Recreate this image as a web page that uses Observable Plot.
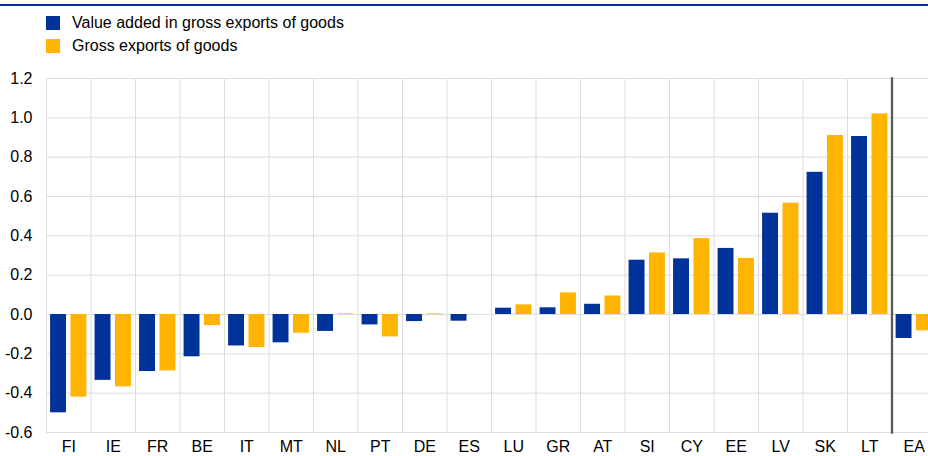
<!DOCTYPE html>
<html><head><meta charset="utf-8">
<script src="https://cdn.jsdelivr.net/npm/d3@7"></script>
<script src="https://cdn.jsdelivr.net/npm/@observablehq/plot@0.6"></script>
<style>
body{margin:0;background:#fff;font-family:"Liberation Sans",Arial,sans-serif;}
#wrap{width:928px;height:456px;overflow:hidden;position:relative;background:#fff}
.topline{position:absolute;left:0;top:4px;width:928px;height:1.5px;background:#003299}
.leg{position:absolute;left:46px;font-size:16px;color:#000;display:flex;align-items:center;height:14px;white-space:nowrap}
.sw{width:14px;height:14px;margin-right:12px;flex:none}
#chart{position:absolute;left:0;top:60px}
</style></head>
<body><div id="wrap"><div class="topline"></div><div id="legend"></div><div id="chart"></div></div>
<script>
const countries = ["FI","IE","FR","BE","IT","MT","NL","PT","DE","ES","LU","GR","AT","SI","CY","EE","LV","SK","LT","EA"];
const valueAdded   = [-0.50,-0.335,-0.29,-0.215,-0.16,-0.144,-0.086,-0.053,-0.036,-0.034,0.032,0.034,0.052,0.276,0.283,0.336,0.515,0.723,0.905,-0.122];
const grossExports = [-0.42,-0.368,-0.287,-0.056,-0.168,-0.095,0.003,-0.114,0.003,0.0,0.049,0.11,0.094,0.313,0.386,0.285,0.566,0.91,1.02,-0.083];
const seriesNames = ["Value added in gross exports of goods","Gross exports of goods"];
const seriesColors = ["#003299","#FFB400"];
const yTicks = [-0.6,-0.4,-0.2,0.0,0.2,0.4,0.6,0.8,1.0,1.2];
const dividerBefore = "EA";

const rows = countries.flatMap((c, i) => [
  {country: c, series: seriesNames[0], value: valueAdded[i]},
  {country: c, series: seriesNames[1], value: grossExports[i]}
]);

// legend
const leg = d3.select("#legend");
seriesNames.forEach((name, i) => {
  const item = leg.append("div").attr("class", "leg").style("top", (16 + i * 23) + "px");
  item.append("div").attr("class", "sw").style("background", seriesColors[i]);
  item.append("span").text(name);
});

const chart = Plot.plot({
  width: 936,
  height: 396,
  marginLeft: 46,
  marginRight: 0,
  marginTop: 18,
  marginBottom: 24,
  style: {fontFamily: "'Liberation Sans', Arial, sans-serif", fontSize: "16px", color: "#000", maxWidth: "none", background: "transparent"},
  fx: {domain: countries, padding: 0, round: false, axis: "bottom", tickSize: 0, tickPadding: 8, label: null},
  x: {domain: seriesNames, axis: null, round: false, paddingInner: 0.22, paddingOuter: 0.2},
  y: {domain: [-0.6, 1.2]},
  color: {domain: seriesNames, range: seriesColors},
  marks: [
    Plot.gridY(yTicks, {stroke: "#dcdcdc", strokeOpacity: 1}),
    Plot.frame({anchor: "left", stroke: "#dcdcdc"}),
    Plot.barY(rows, {fx: "country", x: "series", y: "value", fill: "series"}),
    Plot.frame({anchor: "left", fx: dividerBefore, stroke: "#595959", strokeWidth: 2.3}),
    Plot.axisY(yTicks, {tickSize: 0, tickPadding: 14, tickFormat: d => d.toFixed(1), label: null})
  ]
});
document.getElementById("chart").appendChild(chart);
</script>
</body></html>
